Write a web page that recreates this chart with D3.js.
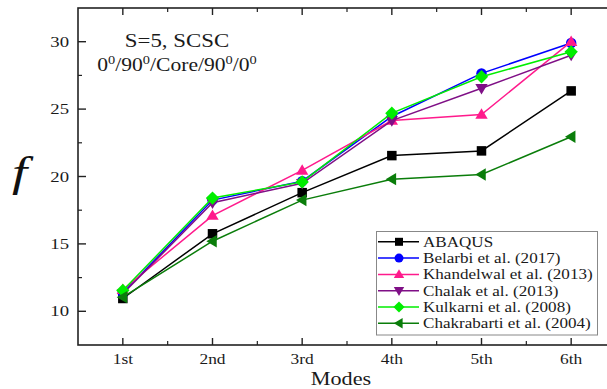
<!DOCTYPE html>
<html>
<head>
<meta charset="utf-8">
<script src="https://cdn.jsdelivr.net/npm/d3@7"></script>
<style>
    body { margin: 0; background: #fff; }
</style>
</head>
<body>
<svg id="chart" width="607" height="389"></svg>
<script>
const modes = ["1st", "2nd", "3rd", "4th", "5th", "6th"];
const yTicks = [10, 15, 20, 25, 30];

const abaqus = [10.95, 15.75, 18.8, 21.55, 21.9, 26.35];
const belarbi = [11.35, 18.25, 19.65, 24.45, 27.65, 29.9];
const khandelwal = [11.6, 17.1, 20.45, 24.15, 24.6, 30.0];
const chalak = [11.3, 18.05, 19.5, 24.15, 26.55, 29.0];
const kulkarni = [11.55, 18.4, 19.6, 24.7, 27.4, 29.25];
const chakrabarti = [11.05, 15.2, 18.25, 19.8, 20.15, 22.95];

const seriesNames = ["ABAQUS", "Belarbi et al. (2017)", "Khandelwal et al. (2013)",
    "Chalak et al. (2013)", "Kulkarni et al. (2008)", "Chakrabarti et al. (2004)"];
const seriesValues = [abaqus, belarbi, khandelwal, chalak, kulkarni, chakrabarti];

const colors = ["#000000", "#0000ff", "#ff1a8c", "#7f0f86", "#00ee00", "#0a7d0a"];
const shapes = ["square", "circle", "triangle", "triangleDown", "diamond", "triangleLeft"];

const svg = d3.select("#chart");
const root = svg.append("g").style("font-family", "Liberation Serif");
const plotL = 78, plotT = 8, plotB = 345, plotR = 616;

const x = d3.scaleLinear().domain([0.5, 6.5]).range([plotL, plotR]);
const y = d3.scaleLinear().domain([7.5, 32.5]).range([plotB, plotT]);

// the source picture is stretched sideways, so texts get a small x scale
function addText(g, tx, ty, str, size, sx, anchor) {
    return g.append("text")
        .attr("transform", `translate(${tx},${ty}) scale(${sx},1)`)
        .attr("text-anchor", anchor || "start")
        .attr("font-size", size)
        .attr("fill", "#1a1a1a")
        .text(str);
}

// frame
root.append("rect")
    .attr("x", plotL).attr("y", plotT)
    .attr("width", plotR - plotL).attr("height", plotB - plotT)
    .attr("fill", "none").attr("stroke", "#222").attr("stroke-width", 1.6);

// x ticks (bottom and top, inward)
const xMajor = d3.range(1, 7);
const xMinor = d3.range(1.5, 6.5, 1);
xMajor.forEach(v => {
    root.append("line").attr("x1", x(v)).attr("x2", x(v)).attr("y1", plotB).attr("y2", plotB - 7)
        .attr("stroke", "#222").attr("stroke-width", 1.4);
    root.append("line").attr("x1", x(v)).attr("x2", x(v)).attr("y1", plotT).attr("y2", plotT + 7)
        .attr("stroke", "#222").attr("stroke-width", 1.4);
});
xMinor.forEach(v => {
    root.append("line").attr("x1", x(v)).attr("x2", x(v)).attr("y1", plotB).attr("y2", plotB - 4)
        .attr("stroke", "#222").attr("stroke-width", 1.2);
    root.append("line").attr("x1", x(v)).attr("x2", x(v)).attr("y1", plotT).attr("y2", plotT + 4)
        .attr("stroke", "#222").attr("stroke-width", 1.2);
});
modes.forEach((m, i) => addText(root, x(i + 1), 364, m, 14.5, 1.2, "middle"));

// y ticks
yTicks.forEach(v => {
    root.append("line").attr("x1", plotL).attr("x2", plotL + 8).attr("y1", y(v)).attr("y2", y(v))
        .attr("stroke", "#222").attr("stroke-width", 1.4);
    addText(root, plotL - 9, y(v) + 5, v, 15, 1.25, "end");
});
d3.range(12.5, 32.5, 5).forEach(v => {
    root.append("line").attr("x1", plotL).attr("x2", plotL + 4).attr("y1", y(v)).attr("y2", y(v))
        .attr("stroke", "#222").attr("stroke-width", 1.2);
});

// axis titles
addText(root, 341, 385, "Modes", 18.5, 1.2, "middle");
addText(root, 12, 186, "f", 42, 1.3, "start").attr("font-style", "italic").attr("fill", "#111");

// annotation
addText(root, 177, 47, "S=5, SCSC", 18, 1.27, "middle");
const ann = addText(root, 177, 71, "", 18, 1.2, "middle");
const annParts = ["0", "0", "/90", "0", "/Core/90", "0", "/0", "0"];
annParts.forEach((t, i) => {
    const sup = i % 2 === 1;
    ann.append("tspan")
        .attr("font-size", sup ? 12 : 18)
        .attr("dy", i === 0 ? 0 : (sup ? -7 : 7))
        .text(t);
});

// marker shapes
function drawMarker(g, shape, cx, cy, color, s) {
    let sym;
    switch (shape) {
        case "square":
            g.append("rect").attr("x", cx - s / 2).attr("y", cy - s / 2).attr("width", s).attr("height", s).attr("fill", color);
            return;
        case "circle":
            g.append("circle").attr("cx", cx).attr("cy", cy).attr("r", s / 2 + 0.5).attr("fill", color);
            return;
        case "diamond":
            sym = [[0, -s * 0.7], [s * 0.7, 0], [0, s * 0.7], [-s * 0.7, 0]];
            break;
        case "triangle":
            sym = [[0, -s * 0.65], [s * 0.65, s * 0.45], [-s * 0.65, s * 0.45]];
            break;
        case "triangleDown":
            sym = [[0, s * 0.65], [s * 0.65, -s * 0.45], [-s * 0.65, -s * 0.45]];
            break;
        case "triangleLeft":
            sym = [[-s * 0.65, 0], [s * 0.45, -s * 0.65], [s * 0.45, s * 0.65]];
            break;
    }
    g.append("polygon").attr("points", sym.map(p => [cx + p[0], cy + p[1]].join(",")).join(" ")).attr("fill", color);
}

const line = d3.line().x((d, i) => x(i + 1)).y(d => y(d));
seriesValues.forEach((vals, k) => {
    const g = root.append("g");
    g.append("path").datum(vals).attr("d", line)
        .attr("fill", "none").attr("stroke", colors[k]).attr("stroke-width", 1.5);
    vals.forEach((v, i) => drawMarker(g, shapes[k], x(i + 1), y(v), colors[k], 9.5));
});

// legend
const lg = root.append("g");
lg.append("rect").attr("x", 376.5).attr("y", 231.5).attr("width", 221).attr("height", 103.5)
    .attr("fill", "#fff").attr("stroke", "#888").attr("stroke-width", 1);
seriesNames.forEach((name, k) => {
    const ly = 241.8 + k * 16.3;
    lg.append("line").attr("x1", 378).attr("x2", 419).attr("y1", ly).attr("y2", ly)
        .attr("stroke", colors[k]).attr("stroke-width", 1.5);
    drawMarker(lg, shapes[k], 399, ly, colors[k], 8);
    addText(lg, 423, ly + 5, name, 14.6, 1.17, "start");
});
</script>
</body>
</html>
